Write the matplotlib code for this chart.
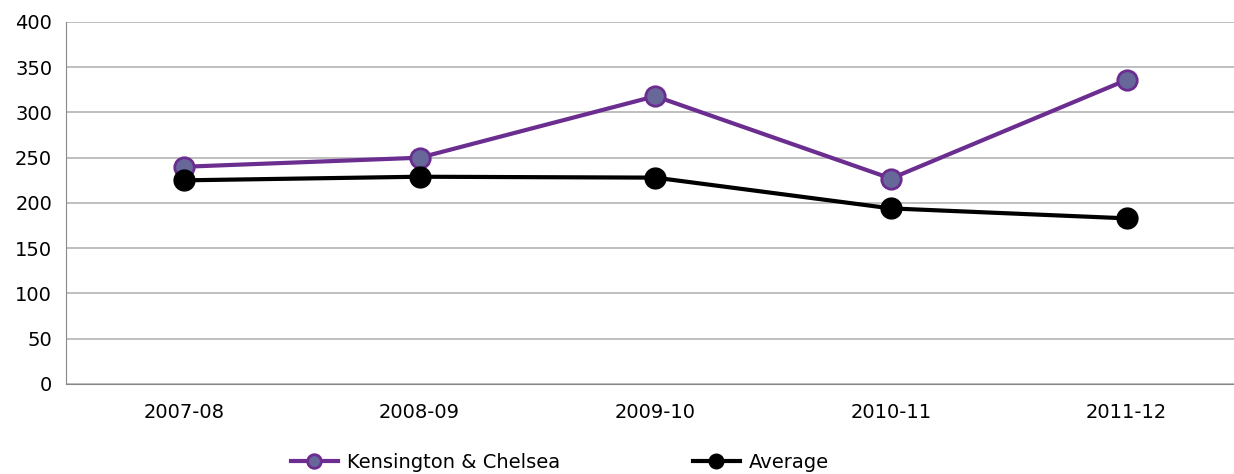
# Kensington & Chelsea vs average, 2007-08 to 2011-12

import matplotlib.pyplot as plt

years = ["2007-08", "2008-09", "2009-10", "2010-11", "2011-12"]
kensington = [240, 250, 318, 227, 336]
average = [225, 229, 228, 194, 183]

fig = plt.figure(figsize=(12.34, 4.74), dpi=100)
ax = fig.add_axes([0.0535, 0.19, 0.955, 0.7636])

x = range(len(years))
ax.plot(x, kensington, color="#6b2d8f", lw=3, marker="o", ms=14,
        mfc="#67679a", mec="#6b2d8f", mew=2, label="Kensington & Chelsea", zorder=3)
ax.plot(x, average, color="black", lw=3, marker="o", ms=15,
        mfc="black", mec="black", label="Average", zorder=3)

ax.set_xlim(-0.5, 4.5)
ax.set_ylim(0, 400)
ax.set_yticks(range(0, 401, 50))
ax.set_xticks(list(x))
ax.set_xticklabels(years)
ax.grid(axis="y", color="#b4b4b4", lw=1.2)
ax.set_axisbelow(True)
for s in ["top", "right"]:
    ax.spines[s].set_visible(False)
for s in ["left", "bottom"]:
    ax.spines[s].set_color("#888888")
ax.tick_params(length=0, labelsize=14, pad=10)
ax.tick_params(axis="x", pad=14)

fig.legend(loc="center", bbox_to_anchor=(0.454, 0.025), ncol=2, frameon=False,
           fontsize=14, handlelength=2.4, handletextpad=0.5, columnspacing=6.8,
           markerscale=0.7)

fig.savefig("out.png", dpi=100)
